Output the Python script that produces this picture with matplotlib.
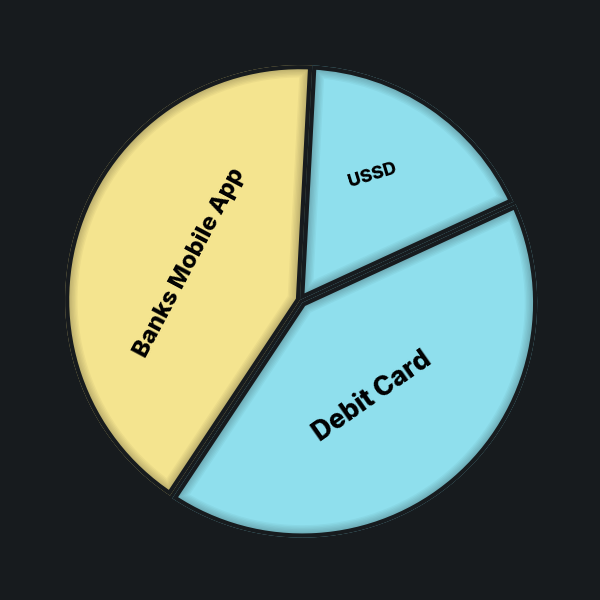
import matplotlib.pyplot as plt
from matplotlib.patches import Wedge

# slices, counter-clockwise from the top boundary
labels = ["Banks Mobile App", "Debit Card", "USSD"]
values = [41.5, 41.2, 17.3]
colors = ["#f4e48f", "#8fdfed", "#8fdfed"]

bg = "#171b1e"

fig = plt.figure(figsize=(6, 6), dpi=100, facecolor=bg)
ax = fig.add_axes([0, 0, 1, 1])
ax.set_facecolor(bg)

wedges, _ = ax.pie(values, colors=colors, startangle=87, counterclock=True,
                   explode=[0, 0.015, 0], radius=1.0,
                   wedgeprops=dict(edgecolor="none", linewidth=0))

# soft inner shadow, clipped to each slice
for w in wedges:
    for lw in range(18, 0, -2):
        sh = Wedge(w.center, w.r, w.theta1, w.theta2, facecolor="none",
                   edgecolor="black", linewidth=lw, alpha=0.035)
        ax.add_patch(sh)
        sh.set_clip_path(w)

# dark separators
for w in wedges:
    ed = Wedge(w.center, w.r, w.theta1, w.theta2, facecolor="none",
               edgecolor=bg, linewidth=6, joinstyle="miter")
    ax.add_patch(ed)
    ed.set_clip_path(w)

# label positions/rotations
label_xy = [(-0.47, 0.16), (0.31, -0.41), (0.31, 0.53)]
label_rot = [62, 35, 17]
label_size = [17, 19, 13]
for t, (x, y), r, s in zip(labels, label_xy, label_rot, label_size):
    ax.text(x, y, t, rotation=r, fontsize=s, fontweight="heavy",
            family="Inter", ha="center", va="center", color="black",
            rotation_mode="anchor")

ax.set_xlim(-1.277, 1.277)
ax.set_ylim(-1.277, 1.277)
ax.set_aspect("equal")
ax.axis("off")

fig.savefig("out.png", dpi=100, facecolor=bg)
